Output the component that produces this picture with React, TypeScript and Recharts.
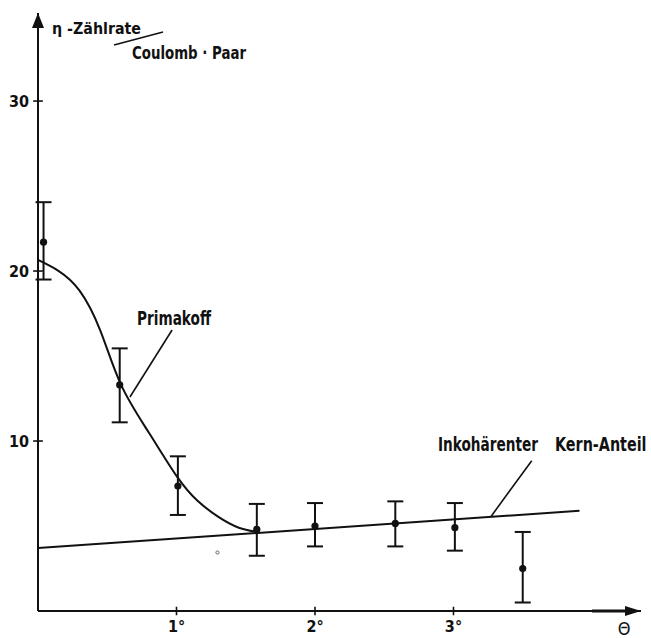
import React from "react";
import {
  ComposedChart,
  Line,
  Scatter,
  ErrorBar,
  XAxis,
  YAxis,
  ReferenceLine,
  ReferenceDot,
} from "recharts";

// Measured count rate η (per Coulomb pair) vs. angle θ in degrees
const measTheta = [0.04, 0.59, 1.01, 1.58, 2.0, 2.58, 3.01, 3.5];
const measEta = [21.7, 13.3, 7.35, 4.8, 5.0, 5.15, 4.9, 2.5];
const measLow = [19.5, 11.1, 5.65, 3.25, 3.8, 3.8, 3.55, 0.5];
const measHigh = [24.05, 15.45, 9.1, 6.3, 6.35, 6.45, 6.35, 4.65];

// Primakoff curve (coherent part) until it joins the incoherent line
const primTheta = [0, 0.15, 0.3, 0.45, 0.6, 0.8, 1.0, 1.15, 1.3, 1.45, 1.6];
const primEta = [20.65, 20.0, 18.85, 16.5, 13.3, 10.5, 7.95, 6.5, 5.55, 4.9, 4.63];

// Incoherent nuclear contribution (straight line)
const kernTheta = [0, 3.91];
const kernEta = [3.7, 5.9];

// Leader lines from the labels to the curves
const primLeader = [
  { x: 0.664, y: 12.59 },
  { x: 0.968, y: 16.53 },
];
const kernLeader = [
  { x: 3.27, y: 5.55 },
  { x: 3.565, y: 8.84 },
];

// Small stray dot under the curve
const strayDot = { x: 1.296, y: 3.44 };

const xTicks = [1, 2, 3];
const yTicks = [10, 20, 30];

const X_MAX = 4.354;
const Y_MAX = 35.18;

const INK = "#111";
const FONT = "'DejaVu Sans Condensed', 'DejaVu Sans', sans-serif";

const measurements = measTheta.map((t, i) => ({
  theta: t,
  eta: measEta[i],
  err: [measEta[i] - measLow[i], measHigh[i] - measEta[i]],
}));
const primakoff = primTheta.map((t, i) => ({ theta: t, eta: primEta[i] }));
const kern = kernTheta.map((t, i) => ({ theta: t, eta: kernEta[i] }));

const UpArrow = (props: any) => {
  const { cx, cy } = props;
  return (
    <polygon
      points={`${cx},${cy} ${cx - 6},${cy + 15} ${cx + 6},${cy + 15}`}
      fill={INK}
    />
  );
};

const RightArrow = (props: any) => {
  const { cx, cy } = props;
  return (
    <polygon
      points={`${cx},${cy} ${cx - 16},${cy - 5} ${cx - 16},${cy + 5}`}
      fill={INK}
    />
  );
};

const Dot = (props: any) => {
  const { cx, cy } = props;
  return <circle cx={cx} cy={cy} r={3.6} fill={INK} />;
};

const tickStyle = {
  fill: INK,
  fontSize: 16,
  fontFamily: FONT,
  fontWeight: 700,
  fontStretch: "condensed",
};

export default function App() {
  return (
    <div
      style={{
        position: "absolute",
        left: 0,
        top: 0,
        width: 651,
        height: 638,
        background: "#fff",
      }}
    >
      <ComposedChart
        width={651}
        height={638}
        margin={{ top: 13, right: 10, bottom: 0, left: 0 }}
      >
        <XAxis
          type="number"
          dataKey="theta"
          domain={[0, X_MAX]}
          allowDataOverflow
          ticks={xTicks}
          tickFormatter={(v: number) => `${v}°`}
          height={27}
          tickSize={0}
          tickMargin={10}
          axisLine={{ stroke: INK, strokeWidth: 2 }}
          tickLine={false}
          tick={tickStyle}
        />
        <YAxis
          type="number"
          domain={[0, Y_MAX]}
          allowDataOverflow
          ticks={yTicks}
          width={38}
          tickSize={0}
          tickMargin={9}
          axisLine={{ stroke: INK, strokeWidth: 2 }}
          tickLine={false}
          tick={tickStyle}
        />

        {/* cross-shaped tick marks on both axes */}
        {xTicks.map((t) => (
          <ReferenceLine
            key={`xt${t}`}
            segment={[
              { x: t, y: -0.25 },
              { x: t, y: 0.25 },
            ]}
            stroke={INK}
            strokeWidth={1.6}
            ifOverflow="visible"
          />
        ))}
        {yTicks.map((t) => (
          <ReferenceLine
            key={`yt${t}`}
            segment={[
              { x: -0.035, y: t },
              { x: 0.035, y: t },
            ]}
            stroke={INK}
            strokeWidth={1.6}
            ifOverflow="visible"
          />
        ))}

        {/* heavier stretch of the θ axis before the arrow */}
        <ReferenceLine
          segment={[
            { x: 4.0, y: 0 },
            { x: X_MAX - 0.05, y: 0 },
          ]}
          stroke={INK}
          strokeWidth={3}
          ifOverflow="visible"
        />

        <ReferenceDot x={0} y={Y_MAX} r={0} ifOverflow="visible" shape={UpArrow} />
        <ReferenceDot x={X_MAX} y={0} r={0} ifOverflow="visible" shape={RightArrow} />

        <Line
          data={kern}
          dataKey="eta"
          type="linear"
          stroke={INK}
          strokeWidth={2}
          dot={false}
          isAnimationActive={false}
        />
        <Line
          data={primakoff}
          dataKey="eta"
          type="natural"
          stroke={INK}
          strokeWidth={2}
          dot={false}
          isAnimationActive={false}
        />

        <ReferenceLine segment={primLeader} stroke={INK} strokeWidth={1.6} ifOverflow="visible" />
        <ReferenceLine segment={kernLeader} stroke={INK} strokeWidth={1.6} ifOverflow="visible" />

        <ReferenceDot
          x={strayDot.x}
          y={strayDot.y}
          r={1.6}
          fill="none"
          stroke="#666"
          strokeWidth={1}
          ifOverflow="visible"
        />

        <Scatter
          data={measurements}
          dataKey="eta"
          shape={Dot}
          isAnimationActive={false}
        >
          <ErrorBar
            dataKey="err"
            direction="y"
            width={8}
            stroke={INK}
            strokeWidth={2}
          />
        </Scatter>
      </ComposedChart>

      {/* text annotations */}
      <svg
        width={651}
        height={638}
        style={{ position: "absolute", left: 0, top: 0, pointerEvents: "none" }}
        fontFamily={FONT}
        fontWeight={700}
        fill={INK}
      >
        <text x={52} y={34} fontSize={16} textLength={89} lengthAdjust="spacingAndGlyphs">
          η -Zählrate
        </text>
        <line x1={114} y1={45} x2={163} y2={32} stroke={INK} strokeWidth={1.6} />
        <text x={132} y={59} fontSize={18} textLength={114} lengthAdjust="spacingAndGlyphs">
          Coulomb · Paar
        </text>
        <text x={137} y={325} fontSize={19} textLength={74} lengthAdjust="spacingAndGlyphs">
          Primakoff
        </text>
        <text x={438} y={451} fontSize={19} textLength={100} lengthAdjust="spacingAndGlyphs">
          Inkohärenter
        </text>
        <g transform="translate(555,451) scale(0.75,1)">
          <text x={0} y={0} fontSize={19} textLength={122} lengthAdjust="spacingAndGlyphs">
            Kern-Anteil
          </text>
        </g>
        <text x={624} y={635} fontSize={18} fontWeight={400} textAnchor="middle">
          Θ
        </text>
      </svg>
    </div>
  );
}
